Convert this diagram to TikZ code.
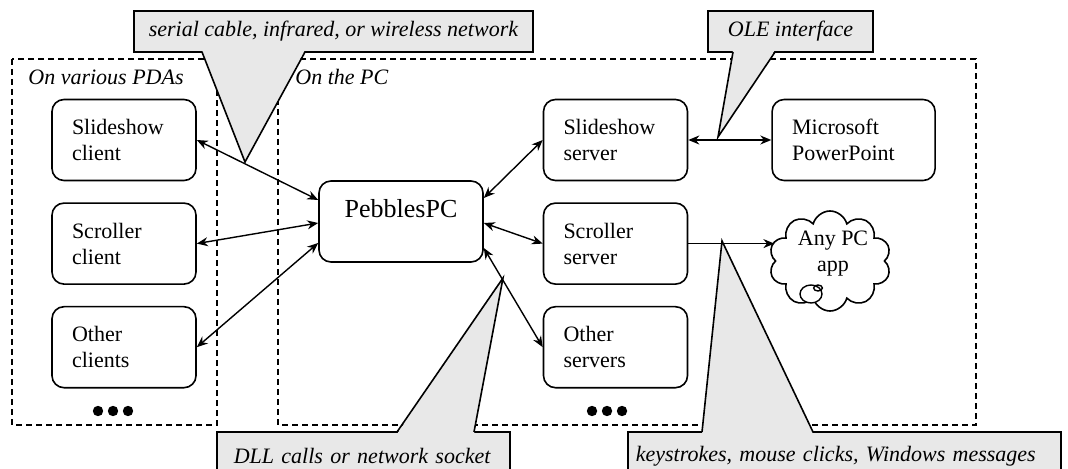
\documentclass[tikz,border=0pt]{standalone}
\usepackage{fontspec}
\setmainfont{Liberation Serif}
\usepackage{xcolor}
\usepackage{tikz}
\usetikzlibrary{shapes.symbols, arrows.meta, positioning, calc}

\begin{document}
\begin{tikzpicture}[
    x=0.5pt, y=-0.5pt,
    node distance=10.5pt,
    module/.style={
        rectangle,
        draw,
        line width=0.8pt,
        fill=white,
        text width=52pt,
        align=left,
        inner xsep=10pt,
        minimum height=40.5pt,
        rounded corners=6pt,
        font=\fontsize{11}{13}\selectfont
    },
    region/.style={draw, line width=0.65pt, dash pattern=on 3pt off 2pt},
    regionlabel/.style={anchor=base west, inner sep=0pt, font=\fontsize{11}{13}\selectfont\itshape},
    note/.style={
        rectangle,
        draw,
        line width=0.8pt,
        fill=gray!18,
        minimum height=20.5pt,
        font=\fontsize{11}{13}\selectfont\itshape
    },
    pointer/.style={fill=gray!18},
    pointerline/.style={line width=0.8pt},
    link/.style={{Stealth[length=5.5pt,width=4.5pt]}-{Stealth[length=5.5pt,width=4.5pt]}, line width=0.7pt},
    oneway/.style={-{Stealth[length=5.5pt,width=4.5pt]}, line width=0.7pt}
]
    \useasboundingbox (0,0) rectangle (1068,469);

    % dashed regions for the two sides
    \draw [region] (12,59) rectangle (217,425);
    \draw [region] (278,59) rectangle (976,425);
    \node [regionlabel] (pdalabel) at (28,85) {On various PDAs};
    \node [regionlabel] (pclabel) at (295,85) {On the PC};

    % clients on the PDA side
    \node [module] (sclient) at (124,140) {Slideshow\\client};
    \node [module, below=of sclient] (rclient) {Scroller\\client};
    \node [module, below=of rclient] (oclient) {Other\\clients};

    % central hub
    \node [module, text width=62pt, align=center, text depth=13.4pt,
        font=\fontsize{13}{15}\selectfont] (pebbles) at (401,221.5) {PebblesPC};

    % servers on the PC side
    \node [module] (ssrv) at (615.5,140) {Slideshow\\server};
    \node [module, below=of ssrv] (rsrv) {Scroller\\server};
    \node [module, below=of rsrv] (osrv) {Other\\servers};
    \node [module, text width=61.5pt, right=41.5pt of ssrv] (ppt) {Microsoft\\PowerPoint};

    % the target application, drawn as a cloud
    \node [cloud, draw, line width=0.8pt, cloud puffs=10, cloud ignores aspect, fill=white,
        minimum width=61pt, minimum height=50pt, inner sep=0pt] (anyapp) at (830,261) {};
    \node [align=center, inner sep=0pt, font=\fontsize{11}{13}\selectfont] (anyapptext) at (833,254) {Any PC\\app};
    \draw [line width=0.7pt, fill=white] (811,294) ellipse (5.5pt and 4.5pt);
    \draw [line width=0.7pt] (818,288) ellipse (2.2pt and 1.5pt);

    % more of the same
    \foreach \x in {98,113,128} \fill (\x,411) circle (2.6pt);
    \foreach \x in {592,607,622} \fill (\x,411) circle (2.6pt);

    % Draw Directed Connections
    \draw [link] (sclient.east) -- ([yshift=10.75pt]pebbles.west);
    \draw [link] (rclient.east) -- ([yshift=-0.75pt]pebbles.west);
    \draw [link] (oclient.east) -- ([yshift=-10.75pt]pebbles.west);
    \draw [link] ([yshift=11.75pt]pebbles.east) -- (ssrv.west);
    \draw [link] ([yshift=-0.75pt]pebbles.east) -- (rsrv.west);
    \draw [link] ([yshift=-13.25pt]pebbles.east) -- (osrv.west);
    \draw [link] (ssrv.east) -- (ppt.west);
    \draw [oneway] (rsrv.east) -- (rsrv.east -| anyapp.west);

    % callouts
    \coordinate (sertip) at (245,162);
    \coordinate (oletip) at (718,137);
    \coordinate (dlltip) at (503,278);
    \coordinate (keytip) at (722,241);

    \node [note, anchor=west, inner xsep=7.5pt] (serial) at (133,31.5) {serial cable, infrared, or wireless network};
    \fill [pointer] (202,50) -- (sertip) -- (305,50) -- cycle;
    \draw [pointerline] (202,52) -- (sertip) -- (305,52);

    \node [note, minimum width=82.5pt] (ole) at (790.5,31.5) {OLE interface};
    \fill [pointer] (733,50) -- (oletip) -- (775,50) -- cycle;
    \draw [pointerline] (733,52) -- (oletip) -- (775,52);

    \node [note, anchor=west, inner xsep=8.5pt, text width=129.5pt, align=left,
        minimum height=24pt] (dll) at (216,456) {DLL calls or network socket};
    \fill [pointer] (397,434) -- (dlltip) -- (474,434) -- cycle;
    \draw [pointerline] (397,432) -- (dlltip) -- (474,432);

    \node [note, anchor=west, inner xsep=4pt, text width=208.5pt, align=left,
        minimum height=24pt] (keys) at (627,456) {keystrokes, mouse clicks, Windows messages};
    \fill [pointer] (702,434) -- (keytip) -- (813,434) -- cycle;
    \draw [pointerline] (702,432) -- (keytip) -- (813,432);

\end{tikzpicture}
\end{document}
